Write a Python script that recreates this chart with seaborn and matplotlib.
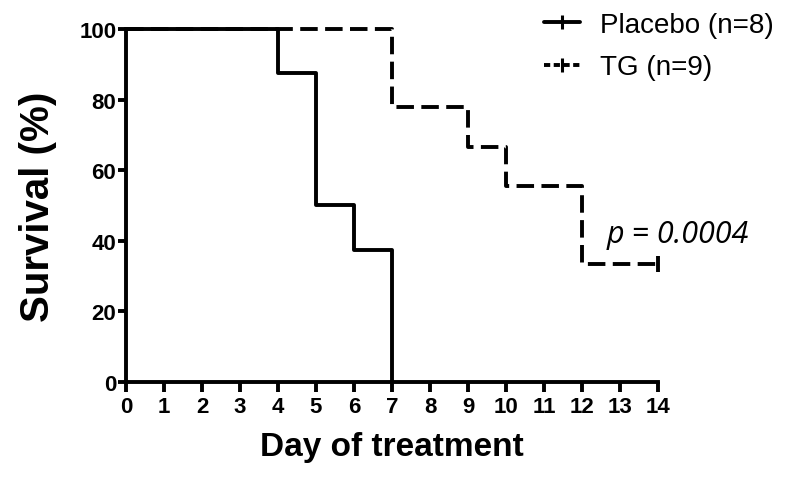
import pandas as pd
import matplotlib
matplotlib.use("Agg")
import matplotlib.pyplot as plt
from matplotlib.lines import Line2D
import seaborn as sns

# Kaplan-Meier step data
placebo_days = [0, 4, 5, 6, 7]
placebo_surv = [100, 87.5, 50, 37.5, 0]
tg_days = [0, 7, 9, 10, 12, 14]
tg_surv = [100, 77.8, 66.7, 55.6, 33.3, 33.3]
groups = ["Placebo (n=8)", "TG (n=9)"]
x_ticks = list(range(0, 15))
y_ticks = [0, 20, 40, 60, 80, 100]

df = pd.concat([
    pd.DataFrame({"day": placebo_days, "surv": placebo_surv, "group": groups[0]}),
    pd.DataFrame({"day": tg_days, "surv": tg_surv, "group": groups[1]}),
])

sns.set_style("ticks")
plt.rcParams["font.family"] = ["Liberation Sans", "DejaVu Sans"]
plt.rcParams["text.color"] = "black"
plt.rcParams["axes.labelcolor"] = "black"
plt.rcParams["xtick.color"] = "black"
plt.rcParams["ytick.color"] = "black"

fig = plt.figure(figsize=(8, 4.89), dpi=100)
ax = fig.add_axes([0.1575, 0.2168, 0.665, 0.7219])

sns.lineplot(data=df, x="day", y="surv", style="group", color="black",
             dashes={groups[0]: "", groups[1]: (4.5, 1.9)}, drawstyle="steps-post",
             lw=2.8, legend=False, ax=ax, clip_on=False, estimator=None)

# censor tick at end of TG
ax.plot([tg_days[-1]], [tg_surv[-1]], marker="|", color="black", ms=11, mew=2.8, clip_on=False)

ax.set_xlim(0, 14)
ax.set_ylim(0, 100)
ax.set_xticks(x_ticks)
ax.set_yticks(y_ticks)
ax.tick_params(axis="both", width=2.8, labelsize=16)
ax.tick_params(axis="x", length=7, pad=3)
ax.tick_params(axis="y", length=6, pad=1)
for lab in ax.get_xticklabels() + ax.get_yticklabels():
    lab.set_fontweight("bold")
for s in ["left", "bottom"]:
    ax.spines[s].set_linewidth(2.8)
    ax.spines[s].set_color("black")
sns.despine(ax=ax)

ax.set_xlabel("Day of treatment", fontsize=24, fontweight="bold", labelpad=10)
ax.set_ylabel("Survival (%)", fontsize=29, fontweight="bold", labelpad=16)

ax.text(12.65, 42, "p = 0.0004", fontsize=22, style="italic", va="center",
        family=["Open Sans", "DejaVu Sans"])

handles = [
    Line2D([], [], color="black", lw=2.8, marker="|", ms=10, mew=2.2),
    Line2D([], [], color="black", lw=2.8, ls=(0, (1.6, 0.9)), marker="|", ms=10, mew=2.2),
]
fig.legend(handles, groups, loc="upper left", bbox_to_anchor=(0.649, 1.025),
           frameon=False, fontsize=20, handlelength=1.3, handletextpad=0.7,
           labelspacing=0.6)

fig.savefig("out.png", dpi=100)
